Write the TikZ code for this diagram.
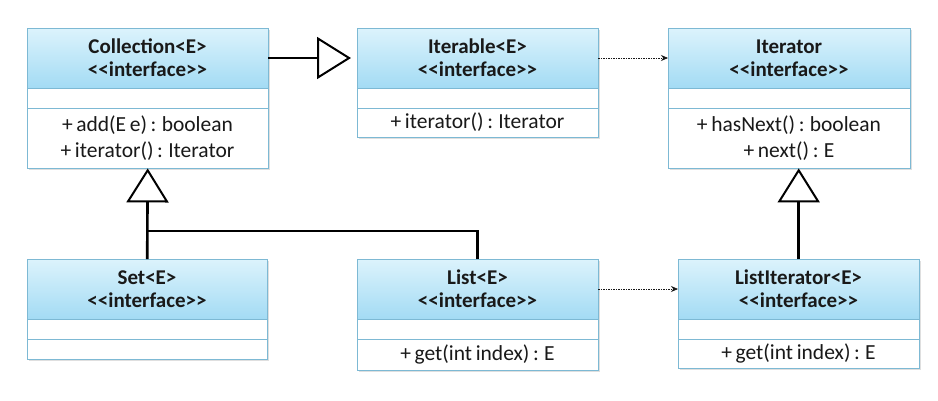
\documentclass[tikz,border=0pt]{standalone}
\usepackage{fontspec}
\setmainfont{Carlito}[Ligatures=TeXOff, WordSpace=0.75]
\usetikzlibrary{arrows.meta,shadows,calc}
\definecolor{hdtop}{RGB}{220,243,252}
\definecolor{hdbot}{RGB}{163,219,244}
\definecolor{bord}{RGB}{125,185,212}
\definecolor{ink}{RGB}{25,25,25}
\tikzset{
  boxframe/.style={draw=bord, line width=0.9pt, fill=white,
    drop shadow={opacity=0.25, shadow xshift=1.5pt, shadow yshift=-1.5pt}},
  hdr/.style={draw=bord, line width=0.9pt, top color=hdtop, bottom color=hdbot},
  sepline/.style={draw=bord, line width=0.9pt},
  titletext/.style={font=\fontsize{21}{23}\selectfont\bfseries, align=center, text=ink, inner sep=0},
  methtext/.style={font=\fontsize{21.5}{26}\selectfont, align=center, text=ink, inner sep=0},
  thickline/.style={draw=black, line width=2.6pt},
  gen/.style={thickline, -{Triangle[open, length=34pt, width=42pt, line width=2pt]}},
  dep/.style={draw=ink, line width=0.7pt, dash pattern=on 1.5pt off 1pt, -{Stealth[length=7pt, width=6pt]}}
}
\newcommand\umlclass[7]{%
  \path[boxframe] (#2,#3) rectangle ++(#4,#5);
  \path[hdr] (#2,#3) rectangle ++(#4,60);
  \draw[sepline] (#2,#3+80) -- ++(#4,0);
  \node[inner sep=0, minimum width=#4pt, minimum height=#5pt, anchor=north west] (#1) at (#2,#3) {};
  \node[titletext] (#1-t) at (#2+#4/2, #3+30) {#6};
  \node[methtext] (#1-m) at (#2+#4/2, {#3+(80+#5)/2}) {#7};
}
\begin{document}
\begin{tikzpicture}[x=1pt, y=-1pt]
  \useasboundingbox[fill=white] (0,0) rectangle (938,400);
  \umlclass{coll}{27}{28}{241}{140}{Collection<E>\\<<interface>>}{+ add(E e) : boolean\\+ iterator() : Iterator}
  \umlclass{iterable}{357}{28}{241}{109}{Iterable<E>\\<<interface>>}{+ iterator() : Iterator}
  \umlclass{iter}{668}{28}{242}{140}{Iterator\\<<interface>>}{+ hasNext() : boolean\\+ next() : E}
  \umlclass{set}{27}{259}{240}{100}{Set<E>\\<<interface>>}{}
  \umlclass{list}{357}{259}{241}{111}{List<E>\\<<interface>>}{+ get(int index) : E}
  \umlclass{listit}{678}{259}{241}{109}{ListIterator<E>\\<<interface>>}{+ get(int index) : E}

  \draw[gen, shorten >=6pt] (coll.east |- coll-t) -- (iterable.west |- coll-t);
  \draw[dep] (iterable.east |- iterable-t) -- (iter.west |- iterable-t);
  \draw[dep] (list.east |- list-t) -- (listit.west |- list-t);
  \coordinate (j) at ($(set.north)+(0,-28)$);
  \draw[gen] (set.north) -- (coll.south);
  \draw[thickline] (list.north) |- (j);
  \draw[gen] (listit.north) -- (listit.north |- iter.south);
\end{tikzpicture}
\end{document}
